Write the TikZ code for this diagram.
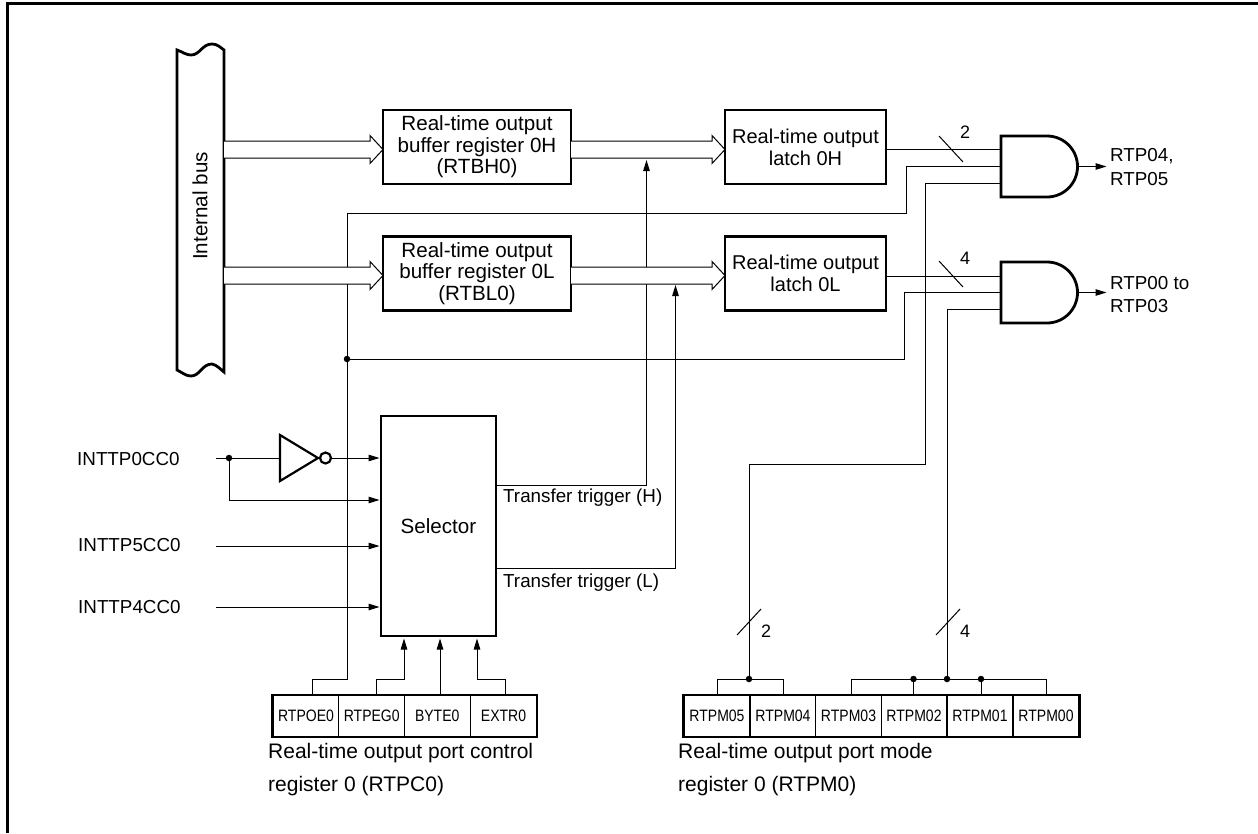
\documentclass[tikz,border=0pt]{standalone}
\usepackage{fontspec}
\setmainfont{Liberation Sans}
\newfontfamily\regfont[FakeStretch=0.85]{Liberation Sans}
\usetikzlibrary{calc,arrows.meta}
\tikzset{
  boxnode/.style={draw, line width=2.8pt, align=center, inner sep=0pt, fill=white},
  regcell/.style={draw, line width=1pt, minimum width=65.8pt, minimum height=41pt, inner sep=0pt, font=\regfont\fontsize{16.5}{18}\selectfont},
  wire/.style={line width=1pt},
  sigarrow/.style={wire, -{Triangle[length=11pt,width=6.5pt]}},
  busarrow/.style={line width=1pt, fill=white},
  jdot/.style={circle, fill=black, inner sep=0pt, minimum size=6.5pt},
  txt/.style={inner sep=0pt, align=left, font=\fontsize{18.8}{23.5}\selectfont},
  num/.style={inner sep=0pt, font=\fontsize{18}{20}\selectfont},
  portlabel/.style={inner sep=0pt, align=left, font=\fontsize{21}{33}\selectfont},
  outline/.style={line width=2.8pt}
}
\begin{document}
\begin{tikzpicture}[x=1pt, y=-1pt, font=\fontsize{20.6}{21.5}\selectfont]
  \useasboundingbox (0,0) rectangle (1258,833);
  % Frame
  \draw[line width=3pt] (7.5,833) -- (7.5,3.5) -- (1258,3.5);
  % Internal bus
  \draw[outline, fill=white] (177,50) .. controls (183,52) and (186,55) .. (191,55)
      .. controls (200,55) and (202,44) .. (212,44) .. controls (217,44) and (220,47) .. (224,50)
      -- (224,372) .. controls (220,369) and (217,365) .. (212,364)
      .. controls (202,364) and (200,376) .. (191,376) .. controls (186,376) and (183,373) .. (177,370) -- cycle;
  \node[rotate=90, inner sep=0pt] (busLabel) at (200,206) {Internal bus};
  % Registers and latches
  \node[boxnode, minimum width=188pt, minimum height=74pt] (bufH) at (477,147) {Real-time output\\buffer register 0H\\(RTBH0)};
  \node[boxnode, minimum width=188pt, minimum height=74pt] (bufL) at (477,273.5) {Real-time output\\buffer register 0L\\(RTBL0)};
  \node[boxnode, minimum width=161pt, minimum height=74pt, font=\fontsize{20}{22}\selectfont] (latH) at (805.5,147) {Real-time output\\latch 0H};
  \node[boxnode, minimum width=161pt, minimum height=74pt, font=\fontsize{20}{22}\selectfont] (latL) at (805.5,273.5) {Real-time output\\latch 0L};
  \node[boxnode, minimum width=115pt, minimum height=220pt] (sel) at (438.5,526) {Selector};
  % AND gates
  \coordinate (andH) at (1001,136);
  \coordinate (andL) at (1001,262);
  \foreach \g in {andH,andL}
    \draw[outline] (\g) -- ++(46,0) arc (90:-90:30.5pt) -- ++(-46,0) -- cycle;
  \coordinate (andHa) at (1001,149.5);
  \coordinate (andHb) at (1001,166.5);
  \coordinate (andHc) at (1001,183);
  \coordinate (andLa) at (1001,276);
  \coordinate (andLb) at (1001,292.5);
  \coordinate (andLc) at (1001,309);
  \coordinate (andHo) at (1077,166.5);
  \coordinate (andLo) at (1077,292.5);
  % Bottom register rows
  \foreach \name/\cx/\lab in {poe/306/RTPOE0, peg/371.75/RTPEG0, byt/437.25/BYTE0, ext/503.5/EXTR0,
      m5/717/RTPM05, m4/783/RTPM04, m3/848.5/RTPM03, m2/914/RTPM02, m1/980/RTPM01, m0/1046/RTPM00}
    \node[regcell] (\name) at (\cx,716) {\lab};
  \draw[outline] (poe.north west) rectangle (ext.south east);
  \draw[outline] (m5.north west) rectangle (m0.south east);
  % Enable line
  \node[jdot] (enDot) at (347,359) {};
  \coordinate (enTop) at (347,213);
  \coordinate (enTurn) at (347,679);
  \coordinate (poeOut) at (312,695);
  \draw[wire] (poeOut) |- (enTurn) -- (enTop) -| (906,166.5) -- (andHb);
  \draw[wire] (enDot) -| (904,292.5) -- (andLb);
  % Transfer triggers
  \coordinate (trigH) at (646.5,485);
  \coordinate (trigL) at (675.5,568);
  \coordinate (tipH) at (646.5,160);
  \coordinate (tipL) at (675.5,285);
  \draw[sigarrow] (sel.east |- trigH) -- (trigH) -- (tipH);
  \draw[sigarrow] (sel.east |- trigL) -- (trigL) -- (tipL);
  % Bus arrows, over the lines they cross
  \coordinate (srcA) at (224,149.5);
  \coordinate (srcB) at (224,275.5);
  \coordinate (srcC) at (571,149.5);
  \coordinate (srcD) at (571,275.5);
  \coordinate (endA) at (383,149.5);
  \coordinate (endB) at (383,275.5);
  \coordinate (endC) at (725,149.5);
  \coordinate (endD) at (725,275.5);
  \foreach \from/\to in {srcA/endA, srcB/endB, srcC/endC, srcD/endD}
    \draw[busarrow] ($(\from)+(0,-8.5)$) -- ($(\to)+(-13,-8.5)$) -- ($(\to)+(-13,-14)$) -- (\to)
      -- ($(\to)+(-13,14)$) -- ($(\to)+(-13,8.5)$) -- ($(\from)+(0,8.5)$);
  % Latch outputs
  \draw[wire] (latH.east |- andHa) -- (andHa);
  \draw[wire] (latL.east |- andLa) -- (andLa);
  \draw[wire] (939,136) -- (963,162);
  \draw[wire] (939,261) -- (963,287);
  \node[num] (numH) at (965,132) {2};
  \node[num] (numL) at (965,258) {4};
  % Outputs
  \node[txt, anchor=west] (outH) at (1110,167) {RTP04,\\RTP05};
  \node[txt, anchor=west] (outL) at (1110,294.5) {RTP00 to\\RTP03};
  \draw[sigarrow] (andHo) -- (1106.5,166.5);
  \draw[sigarrow] (andLo) -- (1106.5,292.5);
  % Mode register lines
  \node[jdot] (dotA) at (749,679) {};
  \node[jdot] (dotB) at (947,679) {};
  \node[jdot] (dotC) at (913.5,679) {};
  \node[jdot] (dotD) at (981,679) {};
  \coordinate (m3Out) at (851,695);
  \draw[wire] (m5.north) |- (dotA) -| (m4.north);
  \draw[wire] (m3Out) |- (dotB) -| (m0.north);
  \draw[wire] (dotC) -- (dotC |- m2.north);
  \draw[wire] (dotD) -- (dotD |- m1.north);
  \draw[wire] (dotA) -- (749,464) -| (925,183) -- (andHc);
  \draw[wire] (dotB) |- (andLc);
  \draw[wire] (737,635) -- (761,609);
  \draw[wire] (936,635) -- (960,609);
  \node[num] (numA) at (766,631) {2};
  \node[num] (numB) at (965,631) {4};
  % Selector inputs
  \node[txt, anchor=west] (tp0) at (77,459) {INTTP0CC0};
  \node[txt, anchor=west] (tp5) at (78,545.5) {INTTP5CC0};
  \node[txt, anchor=west] (tp4) at (78,607) {INTTP4CC0};
  \node[jdot] (tpDot) at (229,458) {};
  \coordinate (inA) at (379.5,458);
  \coordinate (inB) at (379.5,500);
  \coordinate (inC) at (379.5,546);
  \coordinate (inD) at (379.5,607);
  \coordinate (invIn) at (280,458);
  \draw[wire] (216,458) -- (invIn);
  \draw[sigarrow] (332,458) -- (inA);
  \draw[sigarrow] (tpDot) |- (inB);
  \draw[sigarrow] (216,546) -- (inC);
  \draw[sigarrow] (216,607) -- (inD);
  \draw[line width=2.2pt] (invIn) ++(0,-23) -- ++(38,23) -- ++(-38,23) -- cycle;
  \node[circle, draw, line width=2.2pt, fill=white, minimum size=11pt, inner sep=0pt] (invBub) at (325.5,458) {};
  % Control register to selector
  \coordinate (pegOut) at (376,695);
  \coordinate (bytOut) at (440,695);
  \coordinate (extOut) at (505,695);
  \draw[sigarrow] (pegOut) -- (376,679) -- (404,679) -- (404,638.5);
  \draw[sigarrow] (bytOut) -- (440,638.5);
  \draw[sigarrow] (extOut) -- (505,679) -- (477,679) -- (477,638.5);
  % Labels
  \node[txt, anchor=west] (trigHtxt) at (503,498) {Transfer trigger (H)};
  \node[txt, anchor=west] (trigLtxt) at (503,583) {Transfer trigger (L)};
  \node[portlabel, anchor=north west] (rtpc) at (268,743) {Real-time output port control\\register 0 (RTPC0)};
  \node[portlabel, anchor=north west] (rtpm) at (678,743) {Real-time output port mode\\register 0 (RTPM0)};
\end{tikzpicture}
\end{document}
